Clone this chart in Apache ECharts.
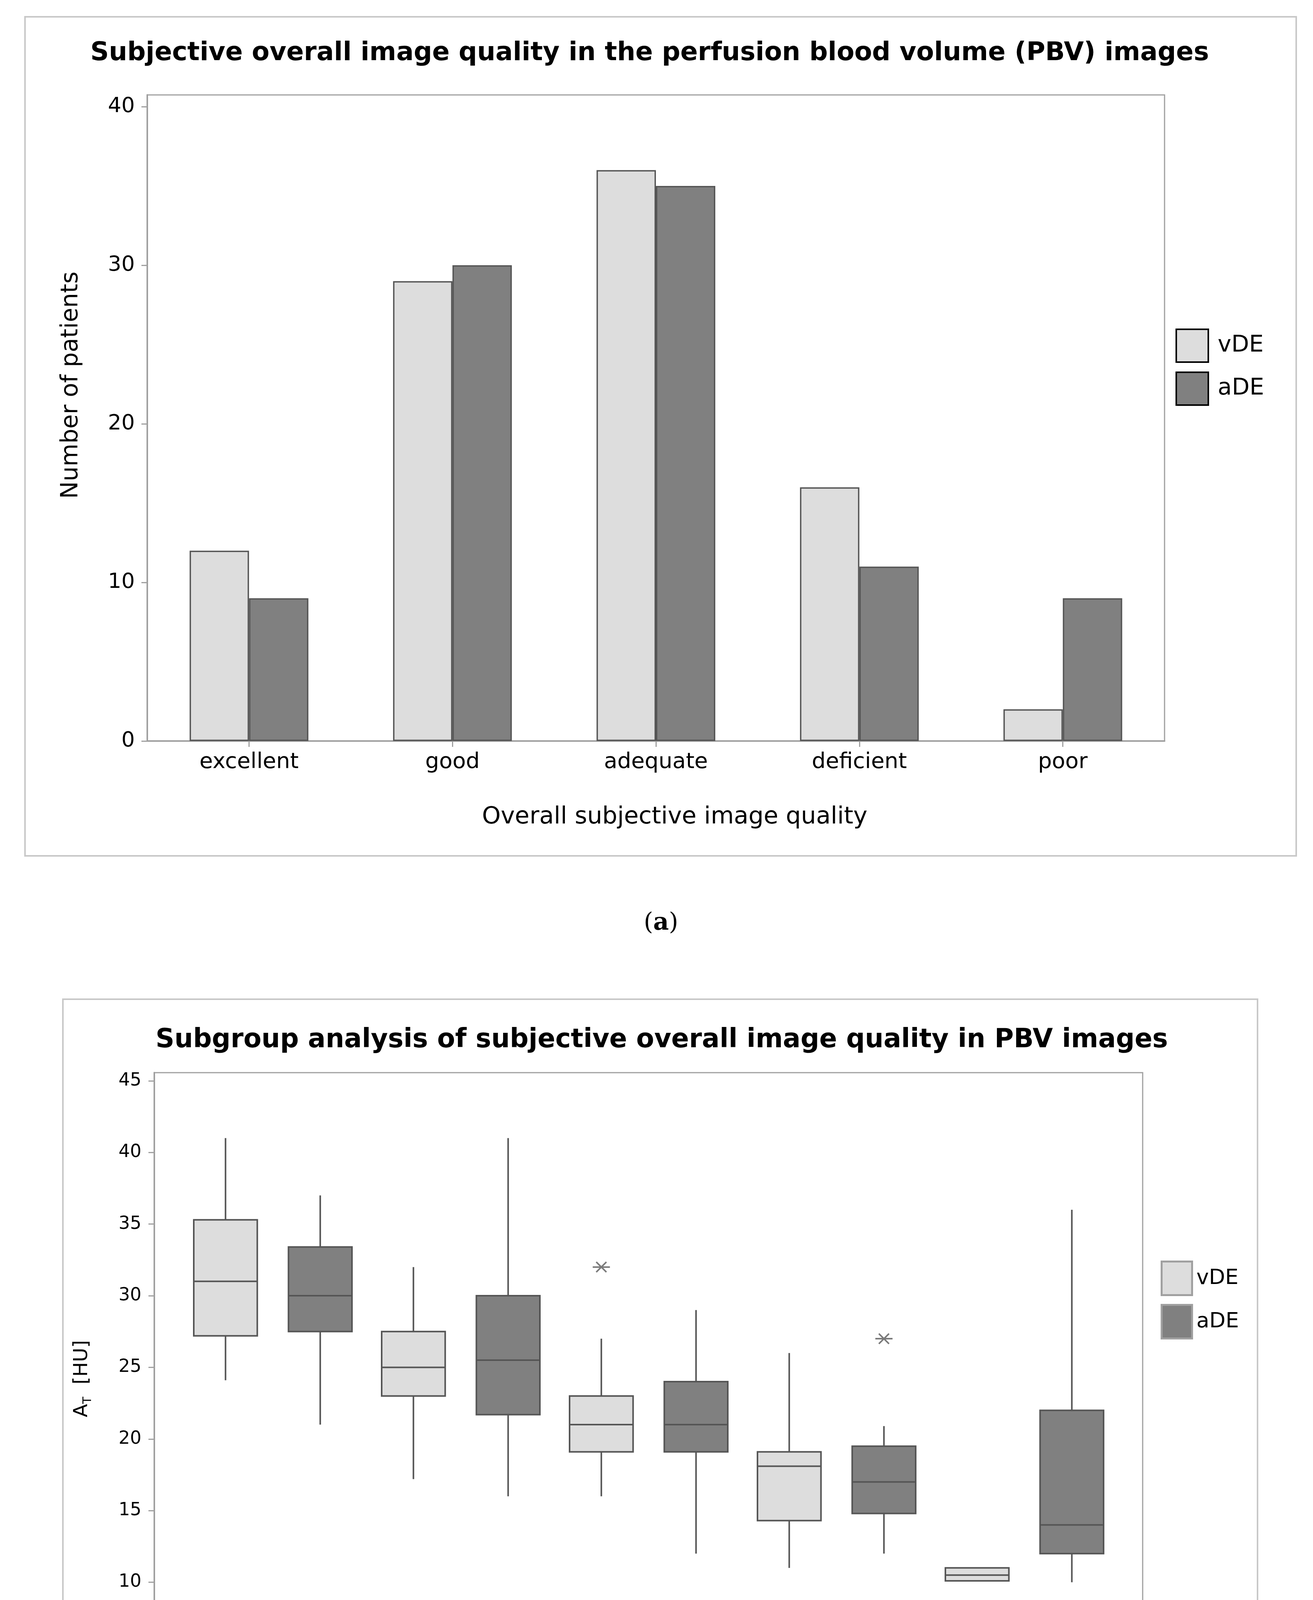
<!DOCTYPE html>
<html><head><meta charset="utf-8">
<script src="https://cdn.jsdelivr.net/npm/echarts@6/dist/echarts.min.js"></script>
<style>html,body{margin:0;padding:0;background:#fff}#c{width:3361px;height:4828px}</style>
</head><body><div id="c"></div>
<script>
// ---------- data ----------
const categories = ['excellent', 'good', 'adequate', 'deficient', 'poor'];
const seriesNames = ['vDE', 'aDE'];
// (a) number of patients
const vDECounts = [12, 29, 36, 16, 2];
const aDECounts = [9, 30, 35, 11, 9];
const yTicksA = [0, 10, 20, 30, 40];
// (b) box statistics: [min, Q1, median, Q3, max]
const vDEBox = [
  [24.1, 27.2, 31, 35.3, 41],
  [17.2, 23, 25, 27.5, 32],
  [16, 19.1, 21, 23, 27],
  [11, 14.3, 18.1, 19.1, 26],
  [10.1, 10.1, 10.5, 11, 11]
];
const aDEBox = [
  [21, 27.5, 30, 33.4, 37],
  [16, 21.7, 25.5, 30, 41],
  [12, 19.1, 21, 24, 29],
  [12, 14.8, 17, 19.5, 20.9],
  [10, 12, 14, 22, 36]
];
// outliers: [category index, value]
const vDEOutliers = [[2, 32]];
const aDEOutliers = [[1, 8], [1, 6], [3, 27]];
const yTicksB = [5, 10, 15, 20, 25, 30, 35, 40, 45];

// ---------- styles ----------
const FONT = '"DejaVu Sans", Verdana, sans-serif';
const LIGHT = '#dddddd', DARK = '#808080', EDGE = '#555555', FRAME = '#a0a0a0';
const BOX_OFF = 0.252, BOX_W = 0.338;

function boxRenderer(offset, fill) {
  return function (params, api) {
    const x = api.value(0) + offset;
    const lo = api.coord([x, api.value(1)]);
    const q1 = api.coord([x, api.value(2)]);
    const md = api.coord([x, api.value(3)]);
    const q3 = api.coord([x, api.value(4)]);
    const hi = api.coord([x, api.value(5)]);
    const w = api.size([BOX_W, 0])[0];
    const cx = lo[0];
    const st = { stroke: EDGE, lineWidth: 4 };
    return {
      type: 'group', children: [
        { type: 'line', shape: { x1: cx, y1: hi[1], x2: cx, y2: q3[1] }, style: st },
        { type: 'line', shape: { x1: cx, y1: q1[1], x2: cx, y2: lo[1] }, style: st },
        { type: 'rect', shape: { x: cx - w / 2, y: q3[1], width: w, height: q1[1] - q3[1] }, style: { fill: fill, stroke: EDGE, lineWidth: 4 } },
        { type: 'line', shape: { x1: cx - w / 2, y1: md[1], x2: cx + w / 2, y2: md[1] }, style: st }
      ]
    };
  };
}
function starRenderer(offset) {
  return function (params, api) {
    const p = api.coord([api.value(0) + offset, api.value(1)]);
    const r = 22, d = 13;
    const st = { stroke: '#7a7a7a', lineWidth: 4 };
    return {
      type: 'group', children: [
        { type: 'line', shape: { x1: p[0] - r, y1: p[1], x2: p[0] + r, y2: p[1] }, style: st },
        { type: 'line', shape: { x1: p[0] - d, y1: p[1] - d, x2: p[0] + d, y2: p[1] + d }, style: st },
        { type: 'line', shape: { x1: p[0] - d, y1: p[1] + d, x2: p[0] + d, y2: p[1] - d }, style: st }
      ]
    };
  };
}

const chart = echarts.init(document.getElementById('c'), null, { renderer: 'canvas', width: 3361, height: 4828 });
const axisLineStyle = { show: true, onZero: false, lineStyle: { color: FRAME, width: 4 } };

chart.setOption({
  animation: false,
  backgroundColor: '#ffffff',
  textStyle: { fontFamily: FONT },
  grid: [
    { left: 377, top: 243, width: 2604, height: 1654, show: true, borderColor: FRAME, borderWidth: 3 },
    { left: 395, top: 2746, width: 2530, height: 1529, show: true, borderColor: FRAME, borderWidth: 3 }
  ],
  xAxis: [
    {
      gridIndex: 0, type: 'category', data: categories,
      axisLine: axisLineStyle,
      axisTick: { show: true, alignWithLabel: true, length: 15, lineStyle: { color: FRAME, width: 3 } },
      axisLabel: { fontSize: 56, fontFamily: FONT, color: '#000', margin: 26 },
      splitLine: { show: false },
      name: 'Overall subjective image quality', nameLocation: 'middle', nameGap: 165,
      nameTextStyle: { fontSize: 61, fontFamily: FONT, color: '#000', padding: [0, 0, 0, 96] }
    },
    {
      gridIndex: 1, type: 'value', min: -0.631, max: 4.629,
      axisLine: axisLineStyle,
      axisTick: { show: false },
      splitLine: { show: false },
      axisLabel: { customValues: [0, 1, 2, 3, 4], formatter: v => categories[Math.round(v)], fontSize: 54, fontFamily: FONT, color: '#000', margin: 33 },
      name: 'Overall subjective image quality', nameLocation: 'middle', nameGap: 172,
      nameTextStyle: { fontSize: 56, fontFamily: FONT, color: '#000' }
    }
  ],
  yAxis: [
    {
      gridIndex: 0, type: 'value', min: 0, max: 40.74,
      axisLine: axisLineStyle,
      axisTick: { show: true, customValues: yTicksA, length: 15, lineStyle: { color: FRAME, width: 3 } },
      axisLabel: { customValues: yTicksA, fontSize: 54, fontFamily: FONT, color: '#000', margin: 32 },
      splitLine: { show: false },
      name: 'Number of patients', nameLocation: 'middle', nameGap: 165,
      nameTextStyle: { fontSize: 60, fontFamily: FONT, color: '#000', padding: [0, 0, 0, 168] }
    },
    {
      gridIndex: 1, type: 'value', min: 3.88, max: 45.57,
      axisLine: axisLineStyle,
      axisTick: { show: true, customValues: yTicksB, length: 15, lineStyle: { color: FRAME, width: 3 } },
      axisLabel: { customValues: yTicksB, fontSize: 46, fontFamily: FONT, color: '#000', margin: 33 },
      splitLine: { show: false },
      name: '{a|A}{s|T}  [HU]', nameLocation: 'middle', nameGap: 155,
      nameTextStyle: {
        fontSize: 50, fontFamily: FONT, color: '#000', padding: [0, 38, 0, 0],
        rich: { a: { fontSize: 50, fontFamily: FONT, color: '#000', lineHeight: 60 },
                s: { fontSize: 30, fontFamily: FONT, color: '#000', lineHeight: 60, verticalAlign: 'bottom' } }
      }
    }
  ],
  legend: [
    {
      data: seriesNames, orient: 'vertical', left: 3004, top: 836, itemWidth: 82, itemHeight: 84, itemGap: 22,
      icon: 'rect', selectedMode: false, itemStyle: { borderColor: '#000', borderWidth: 4 },
      textStyle: { fontSize: 59, fontFamily: FONT, color: '#000', padding: [0, 0, 0, 19] }
    },
    {
      data: seriesNames, orient: 'vertical', left: 2966, top: 3222, itemWidth: 78, itemHeight: 86, itemGap: 20,
      icon: 'rect', selectedMode: false, itemStyle: { borderColor: FRAME, borderWidth: 5 },
      textStyle: { fontSize: 54, fontFamily: FONT, color: '#000', padding: [0, 0, 0, 6] }
    }
  ],
  series: [
    { type: 'bar', name: seriesNames[0], xAxisIndex: 0, yAxisIndex: 0, data: vDECounts, barWidth: 152, barGap: '0%',
      itemStyle: { color: LIGHT, borderColor: EDGE, borderWidth: 3.5 } },
    { type: 'bar', name: seriesNames[1], xAxisIndex: 0, yAxisIndex: 0, data: aDECounts, barWidth: 152, barGap: '0%',
      itemStyle: { color: DARK, borderColor: EDGE, borderWidth: 3.5 } },
    { type: 'custom', name: seriesNames[0], xAxisIndex: 1, yAxisIndex: 1,
      data: vDEBox.map((b, i) => [i].concat(b)), encode: { x: 0, y: [1, 2, 3, 4, 5] },
      renderItem: boxRenderer(-BOX_OFF, LIGHT), itemStyle: { color: LIGHT } },
    { type: 'custom', name: seriesNames[1], xAxisIndex: 1, yAxisIndex: 1,
      data: aDEBox.map((b, i) => [i].concat(b)), encode: { x: 0, y: [1, 2, 3, 4, 5] },
      renderItem: boxRenderer(BOX_OFF, DARK), itemStyle: { color: DARK } },
    { type: 'custom', name: 'vDE outliers', xAxisIndex: 1, yAxisIndex: 1, data: vDEOutliers,
      encode: { x: 0, y: 1 }, renderItem: starRenderer(-BOX_OFF) },
    { type: 'custom', name: 'aDE outliers', xAxisIndex: 1, yAxisIndex: 1, data: aDEOutliers,
      encode: { x: 0, y: 1 }, renderItem: starRenderer(BOX_OFF) }
  ],
  graphic: [
    { type: 'rect', shape: { x: 64, y: 43, width: 3254, height: 2148 }, style: { fill: 'none', stroke: '#c8c8c8', lineWidth: 4 }, silent: true },
    { type: 'rect', shape: { x: 161, y: 2558, width: 3058, height: 2037 }, style: { fill: 'none', stroke: '#c8c8c8', lineWidth: 4 }, silent: true },
    { type: 'text', x: 1663, y: 137, style: { text: 'Subjective overall image quality in the perfusion blood volume (PBV) images',
        fontSize: 66, fontWeight: 'bold', fontFamily: FONT, fill: '#000', align: 'center', verticalAlign: 'middle' } },
    { type: 'text', x: 1694, y: 2664, style: { text: 'Subgroup analysis of subjective overall image quality in PBV images',
        fontSize: 67, fontWeight: 'bold', fontFamily: FONT, fill: '#000', align: 'center', verticalAlign: 'middle' } },
    { type: 'text', x: 1692, y: 2364, style: { text: '({b|a})', fontSize: 62, fontFamily: '"DejaVu Serif", serif', fill: '#000',
        align: 'center', verticalAlign: 'middle', rich: { b: { fontSize: 62, fontWeight: 'bold', fontFamily: '"DejaVu Serif", serif', fill: '#000' } } } },
    { type: 'text', x: 1689, y: 4763, style: { text: '({b|b})', fontSize: 62, fontFamily: '"DejaVu Serif", serif', fill: '#000',
        align: 'center', verticalAlign: 'middle', rich: { b: { fontSize: 62, fontWeight: 'bold', fontFamily: '"DejaVu Serif", serif', fill: '#000' } } } }
  ]
});
</script>
</body></html>
